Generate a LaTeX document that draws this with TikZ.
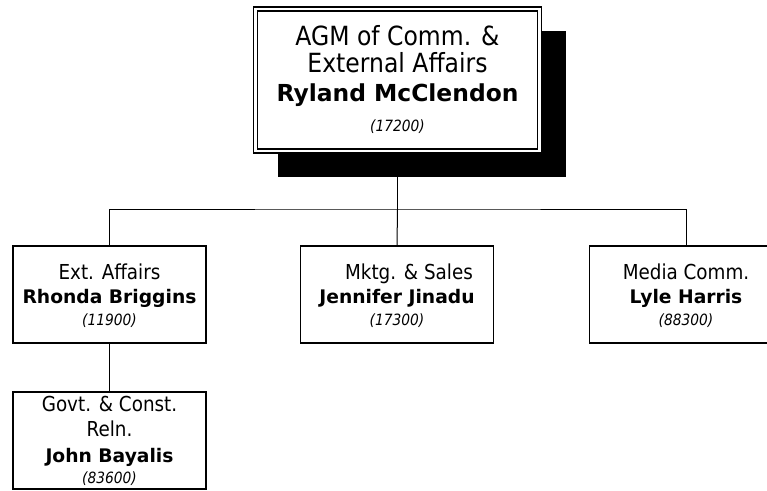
\documentclass[tikz,border=0pt]{standalone}
\usepackage{fontspec}
\setmainfont{DejaVu Sans}[FakeStretch=0.89]
\newfontfamily\namefont{DejaVu Sans}
\pgfdeclarelayer{background}
\pgfsetlayers{background,main}
\begin{document}
\begin{tikzpicture}[x=1pt,y=-1pt,
  unitbox/.style={draw=black, line width=1.3pt, fill=white, rectangle, inner sep=0pt,
                  minimum width=193pt, minimum height=97pt},
  ln/.style={inner sep=0pt, anchor=base},
  ttl/.style={ln, font=\fontsize{20.6}{24}\selectfont},
  nm/.style={ln, font=\namefont\bfseries\fontsize{18.7}{22}\selectfont},
  num/.style={ln, font=\itshape\fontsize{15.5}{18}\selectfont},
  bigttl/.style={ln, font=\fontsize{26.4}{30}\selectfont},
  bignm/.style={ln, font=\namefont\bfseries\fontsize{23.4}{28}\selectfont},
  conn/.style={draw=black, line width=1pt}]

\path[use as bounding box] (0,0) rectangle (767,490);
\clip (0,0) rectangle (767,490);

% head of the unit: shadowed box with a double frame
\node[fill=black, inner sep=0pt, minimum width=288pt, minimum height=146pt] (topshadow) at (421.5,104) {};
\node[draw=black, line width=1.5pt, fill=white, inner sep=0pt, minimum width=288pt, minimum height=146pt] (top) at (397.5,80) {};
\node[draw=black, line width=1.2pt, inner sep=0pt, minimum width=280pt, minimum height=138pt] (topin) at (397.5,80) {};
\node[bigttl] (topl1) at (397.5,45.7) {AGM of Comm. \&};
\node[bigttl] (topl2) at (397.5,72.3) {External Affairs};
\node[bignm]  (topl3) at (397.5,101.7) {Ryland McClendon};
\node[num]    (topl4) at (397.5,131.7) {(17200)};

% departments
\node[unitbox] (ext)   at (109.5,294.5) {};
\node[unitbox] (mktg)  at (397,294.5) {};
\node[unitbox] (media) at (686,294.5) {};
\node[unitbox] (govt)  at (109.5,440.5) {};

\node[ttl] (extl1) at (109.5,279.3) {Ext. Affairs};
\node[nm]  (extl2) at (109.5,303.3) {Rhonda Briggins};
\node[num] (extl3) at (109.5,325) {(11900)};

\node[ttl] (mktgl1) at (409,279) {Mktg. \& Sales};
\node[nm]  (mktgl2) at (397,303.3) {Jennifer Jinadu};
\node[num] (mktgl3) at (397,325) {(17300)};

\node[ttl] (medial1) at (686,279.5) {Media Comm.};
\node[nm]  (medial2) at (686,303.5) {Lyle Harris};
\node[num] (medial3) at (686,325) {(88300)};

\node[ttl] (govtl1) at (109.5,411) {Govt. \& Const.};
\node[ttl] (govtl2) at (109.5,436) {Reln.};
\node[nm]  (govtl3) at (109.5,462.7) {John Bayalis};
\node[num] (govtl4) at (109.5,483) {(83600)};

% reporting lines
\coordinate (hub) at (397.5,209);
\begin{pgfonlayer}{background}
  \draw[conn] (top.south) -- (hub);
\end{pgfonlayer}
\draw[conn] (ext.north) |- (hub) -| (media.north);
\draw[conn] (hub) -- (mktg.north);
\draw[conn] (ext.south) -- (govt.north);
\end{tikzpicture}
\end{document}
